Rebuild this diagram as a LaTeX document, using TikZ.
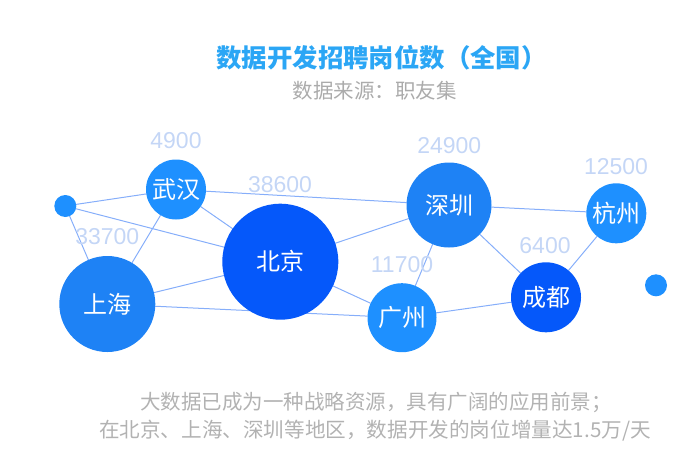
\documentclass[tikz,border=0pt]{standalone}
\usepackage{fontspec}
\usetikzlibrary{backgrounds}
\newfontfamily\cjk{Noto Sans CJK SC}
\newfontfamily\numf{Liberation Sans}
\definecolor{deep}{HTML}{0558FA}
\definecolor{mid}{HTML}{1E82F5}
\definecolor{soft}{HTML}{1E90FF}
\definecolor{linkc}{HTML}{86AEFA}
\definecolor{numc}{HTML}{C4D6F6}
\definecolor{titlec}{HTML}{2BA6F5}
\definecolor{subc}{HTML}{ABABAB}
\definecolor{notec}{HTML}{B2B2B2}
\tikzset{
  city/.style={circle,inner sep=0pt,outer sep=0pt,text=white,font=\cjk\fontsize{24}{24}\selectfont},
  num/.style={inner sep=0pt,text=numc,font=\numf\fontsize{23}{23}\selectfont},
  link/.style={draw=linkc,line width=1pt},
  titletext/.style={inner sep=0pt,text=titlec,font=\cjk\bfseries\fontsize{25.4}{25.4}\selectfont},
  subtext/.style={inner sep=0pt,text=subc,font=\cjk\fontsize{20.5}{20.5}\selectfont},
  notetext/.style={inner sep=0pt,text=notec,font=\cjk\fontsize{20.5}{20.5}\selectfont},
}
\begin{document}
\begin{tikzpicture}[x=1pt,y=-1pt]
\useasboundingbox (0,0) rectangle (676,456);
\node[titletext] (title) at (381.5,58) {数据开发招聘岗位数（全国）};
\node[subtext] (source) at (374.5,91) {数据来源：职友集};
\node[city,fill=soft,minimum size=22pt] (dotl) at (65.3,206) {};
\node[city,fill=soft,minimum size=22pt] (dotr) at (656,285.3) {};
\node[city,fill=soft,minimum size=60pt] (wh) at (176,189.5) {武汉};
\node[city,fill=deep,minimum size=116pt] (bj) at (280.3,261.7) {北京};
\node[city,fill=mid,minimum size=96pt] (sh) at (107.3,304) {上海};
\node[city,fill=mid,minimum size=85pt] (sz) at (449,205) {深圳};
\node[city,fill=soft,minimum size=60pt] (hz) at (616.3,213.3) {杭州};
\node[city,fill=deep,minimum size=70pt] (cd) at (546,297.3) {成都};
\node[city,fill=soft,minimum size=69pt] (gz) at (402,317.7) {广州};
\begin{scope}[on background layer]
\draw[link] (dotl) -- (wh);
\draw[link] (dotl) -- (bj);
\draw[link] (dotl) -- (sh);
\draw[link] (wh) -- (sh);
\draw[link] (wh) -- (bj);
\draw[link] (wh) -- (sz);
\draw[link] (bj) -- (sh);
\draw[link] (bj) -- (sz);
\draw[link] (bj) -- (gz);
\draw[link] (sh) -- (gz);
\draw[link] (sz) -- (gz);
\draw[link] (sz) -- (cd);
\draw[link] (sz) -- (hz);
\draw[link] (cd) -- (hz);
\draw[link] (gz) -- (cd);
\end{scope}
\node[num] (nwh) at (176,141) {4900};
\node[num] (nbj) at (280,185) {38600};
\node[num] (nsh) at (107.3,237) {33700};
\node[num] (nsz) at (449.3,146) {24900};
\node[num] (nhz) at (616,166.7) {12500};
\node[num] (ncd) at (545,246) {6400};
\node[num] (ngz) at (402,264.3) {11700};
\node[notetext] (note1) at (376,402) {大数据已成为一种战略资源，具有广阔的应用前景；};
\node[notetext,font=\cjk\fontsize{20.6}{20.6}\selectfont] (note2) at (375,431) {在北京、上海、深圳等地区，数据开发的岗位增量达1.5万/天};
\end{tikzpicture}
\end{document}
